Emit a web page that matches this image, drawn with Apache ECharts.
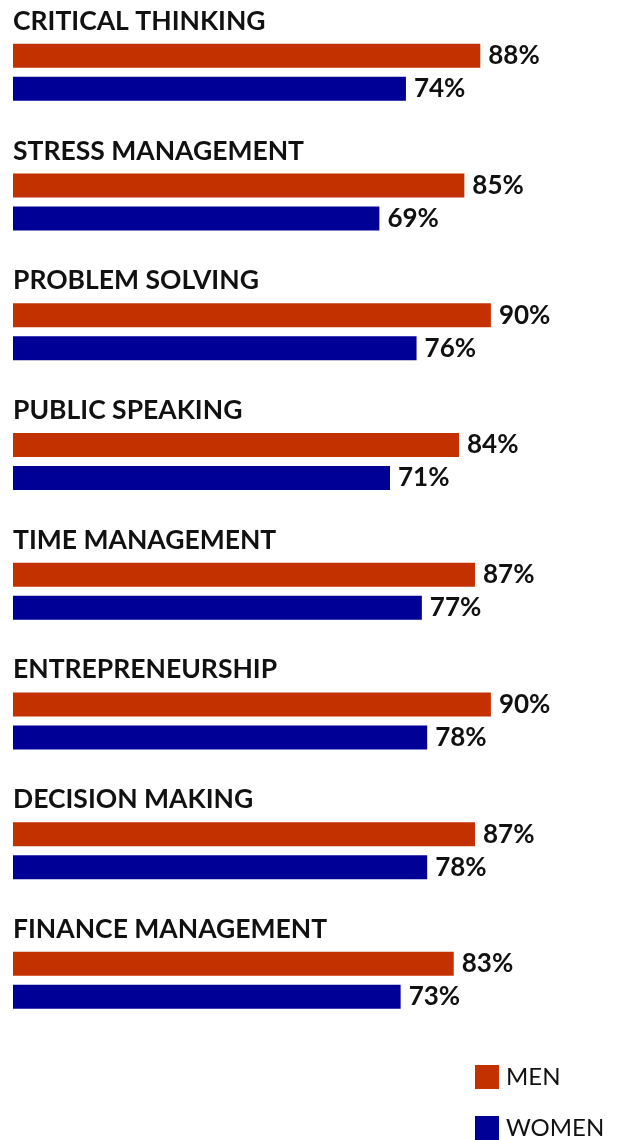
<!DOCTYPE html>
<html>
<head>
<meta charset="utf-8">
<script src="https://cdn.jsdelivr.net/npm/echarts@6/dist/echarts.min.js"></script>
<style>
  html, body { margin: 0; padding: 0; background: #fff; }
  #chart { width: 617px; height: 1140px; }
</style>
</head>
<body>
<div id="chart"></div>
<script>
// skills surveyed, top to bottom
const skills = [
  'CRITICAL THINKING',
  'STRESS MANAGEMENT',
  'PROBLEM SOLVING',
  'PUBLIC SPEAKING',
  'TIME MANAGEMENT',
  'ENTREPRENEURSHIP',
  'DECISION MAKING',
  'FINANCE MANAGEMENT',
];
const menValues = [88, 85, 90, 84, 87, 90, 87, 83];
const womenValues = [74, 69, 76, 71, 77, 78, 78, 73];

const FONT = 'Lato, "Noto Sans", sans-serif';
const TEXT = '#111';

const chart = echarts.init(document.getElementById('chart'), null, { renderer: 'canvas' });

// label shown at the end of every bar
const valueLabel = {
  show: true,
  position: 'right',
  distance: 8,
  formatter: ({ value }) => value + '%',
  fontFamily: FONT,
  fontWeight: 'bold',
  fontSize: 26,
  color: TEXT,
};

chart.setOption({
  animation: false,
  grid: { left: 13, right: 73, top: 7.5, height: 1037.7, containLabel: false },
  xAxis: {
    type: 'value',
    min: 0,
    max: 100,
    show: false,
  },
  yAxis: {
    type: 'category',
    inverse: true,
    data: skills,
    axisLine: { show: false },
    axisTick: { show: false },
    axisLabel: {
      // skill name sits above its pair of bars: push it up with an empty line below
      align: 'left',
      margin: 0,
      verticalAlign: 'bottom',
      formatter: (v) => `{t|${v}}\n{gap|}`,
      rich: {
        t: {
          fontFamily: FONT,
          fontWeight: 'bold',
          fontSize: 26.5,
          lineHeight: 30,
          color: TEXT,
        },
        gap: { lineHeight: 36, fontSize: 10 },
      },
    },
  },
  legend: {
    orient: 'vertical',
    left: 475,
    top: 1065,
    padding: 0,
    icon: 'rect',
    itemWidth: 24,
    itemHeight: 24,
    itemGap: 27,
    textStyle: { fontFamily: FONT, fontSize: 24, color: TEXT, padding: [0, 0, 0, 2] },
    data: ['MEN', 'WOMEN'],
  },
  series: [
    {
      name: 'MEN',
      type: 'bar',
      data: menValues,
      barWidth: 24,
      barGap: '37.5%',
      itemStyle: { color: '#c43100' },
      label: valueLabel,
    },
    {
      name: 'WOMEN',
      type: 'bar',
      data: womenValues,
      barWidth: 24,
      itemStyle: { color: '#000096' },
      label: valueLabel,
    },
  ],
});
</script>
</body>
</html>
